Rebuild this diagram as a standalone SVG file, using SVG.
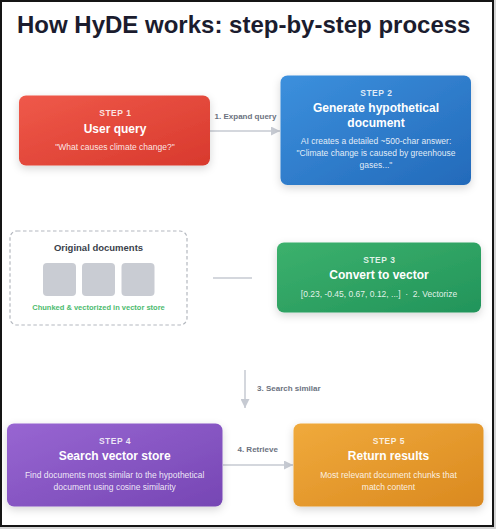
<svg xmlns="http://www.w3.org/2000/svg" width="496" height="529" viewBox="0 0 496 529">
  <style>
    text { font-family: "Liberation Sans", Arial, sans-serif; }
    .title { font-size: 24px; font-weight: bold; fill: #1b1c2e; }
    .step { font-size: 8.5px; font-weight: bold; fill: #ffffff; fill-opacity: 0.85; letter-spacing: 0.5px; text-anchor: middle; }
    .ntitle { font-size: 12px; font-weight: bold; fill: #ffffff; text-anchor: middle; }
    .desc { font-size: 8.5px; fill: #ffffff; fill-opacity: 0.88; text-anchor: middle; }
    .lbl { font-size: 8px; font-weight: bold; fill: #6b7280; }
    .conn { stroke: #c6cad2; stroke-width: 1.5; fill: none; }
    .doc { fill: #c9ccd3; }
  </style>
  <defs>
    <linearGradient id="gRed" x1="0" y1="0" x2="1" y2="1">
      <stop offset="0" stop-color="#ef594a"/>
      <stop offset="1" stop-color="#d8392d"/>
    </linearGradient>
    <linearGradient id="gBlue" x1="0" y1="0" x2="1" y2="1">
      <stop offset="0" stop-color="#3c90dd"/>
      <stop offset="1" stop-color="#236aba"/>
    </linearGradient>
    <linearGradient id="gGreen" x1="0" y1="0" x2="1" y2="1">
      <stop offset="0" stop-color="#3cb16d"/>
      <stop offset="1" stop-color="#22945a"/>
    </linearGradient>
    <linearGradient id="gPurple" x1="0" y1="0" x2="1" y2="1">
      <stop offset="0" stop-color="#9866d2"/>
      <stop offset="1" stop-color="#7646b4"/>
    </linearGradient>
    <linearGradient id="gOrange" x1="0" y1="0" x2="1" y2="1">
      <stop offset="0" stop-color="#f0aa3c"/>
      <stop offset="1" stop-color="#da891f"/>
    </linearGradient>
    <filter id="shadow" x="-20%" y="-20%" width="140%" height="150%">
      <feDropShadow dx="0" dy="3" stdDeviation="4" flood-color="#000000" flood-opacity="0.16"/>
    </filter>
    <marker id="arrow" markerUnits="userSpaceOnUse" markerWidth="9" markerHeight="9" viewBox="0 0 9 9" refX="9" refY="4.5" orient="auto">
      <path d="M0,0 L9,4.5 L0,9 Z" fill="#c6cad2"/>
    </marker>
  </defs>

  <rect x="0" y="0" width="496" height="529" fill="#d4d4d4"/>
  <rect x="1" y="1" width="492" height="525" fill="#ffffff" stroke="#151515" stroke-width="2"/>

  <text class="title" x="17" y="33">How HyDE works: step-by-step process</text>

  <g id="connectors">
    <line class="conn" x1="210" y1="131" x2="280" y2="131" marker-end="url(#arrow)"/>
    <rect x="210" y="111" width="71" height="10" fill="#ffffff"/>
    <text class="lbl" x="245.5" y="118.5" text-anchor="middle">1. Expand query</text>
    <line class="conn" x1="213" y1="278" x2="252" y2="278"/>
    <line class="conn" x1="245" y1="370" x2="245" y2="408" marker-end="url(#arrow)"/>
    <text class="lbl" x="257" y="391">3. Search similar</text>
    <line class="conn" x1="223" y1="465" x2="293" y2="465" marker-end="url(#arrow)"/>
    <text class="lbl" x="257.7" y="452" text-anchor="middle">4. Retrieve</text>
  </g>

  <g id="step1">
    <rect x="19" y="95.5" width="191" height="70" rx="7" fill="url(#gRed)" filter="url(#shadow)"/>
    <text class="step" x="115.3" y="116">STEP 1</text>
    <text class="ntitle" x="115" y="133">User query</text>
    <text class="desc" x="115" y="150">"What causes climate change?"</text>
  </g>

  <g id="step2">
    <rect x="280.5" y="75.5" width="190.5" height="109.5" rx="7" fill="url(#gBlue)" filter="url(#shadow)"/>
    <text class="step" x="376.3" y="96">STEP 2</text>
    <text class="ntitle" x="376" y="112">Generate hypothetical</text>
    <text class="ntitle" x="376" y="127">document</text>
    <text class="desc" x="376" y="144">AI creates a detailed ~500-char answer:</text>
    <text class="desc" x="376" y="156">"Climate change is caused by greenhouse</text>
    <text class="desc" x="376" y="168">gases..."</text>
  </g>

  <g id="original-documents">
    <rect x="10" y="231" width="177" height="94" rx="7" fill="#ffffff" stroke="#b4b8bf" stroke-width="1.2" stroke-dasharray="3.5 2.5"/>
    <text x="98.5" y="251" text-anchor="middle" style="font-size:9.5px;font-weight:bold;fill:#3a3f4a">Original documents</text>
    <rect class="doc" x="43" y="263" width="33" height="33" rx="4"/>
    <rect class="doc" x="82" y="263" width="33" height="33" rx="4"/>
    <rect class="doc" x="121.5" y="263" width="33" height="33" rx="4"/>
    <text x="98.5" y="310" text-anchor="middle" style="font-size:7.5px;font-weight:bold;fill:#4cbb6e">Chunked &amp; vectorized in vector store</text>
  </g>

  <g id="step3">
    <rect x="277" y="242.5" width="204" height="70" rx="7" fill="url(#gGreen)" filter="url(#shadow)"/>
    <text class="step" x="379.3" y="263">STEP 3</text>
    <text class="ntitle" x="379" y="279">Convert to vector</text>
    <text class="desc" x="379" y="297">[0.23, -0.45, 0.67, 0.12, ...]&#160;&#160;·&#160;&#160;2. Vectorize</text>
  </g>

  <g id="step4">
    <rect x="7" y="423.5" width="215.5" height="83" rx="7" fill="url(#gPurple)" filter="url(#shadow)"/>
    <text class="step" x="115" y="443.5">STEP 4</text>
    <text class="ntitle" x="114.7" y="460">Search vector store</text>
    <text class="desc" x="114.7" y="478">Find documents most similar to the hypothetical</text>
    <text class="desc" x="114.7" y="490">document using cosine similarity</text>
  </g>

  <g id="step5">
    <rect x="293.5" y="423.5" width="190" height="83" rx="7" fill="url(#gOrange)" filter="url(#shadow)"/>
    <text class="step" x="388.8" y="443.5">STEP 5</text>
    <text class="ntitle" x="388.5" y="460">Return results</text>
    <text class="desc" x="388.5" y="478">Most relevant document chunks that</text>
    <text class="desc" x="388.5" y="490">match content</text>
  </g>
</svg>
